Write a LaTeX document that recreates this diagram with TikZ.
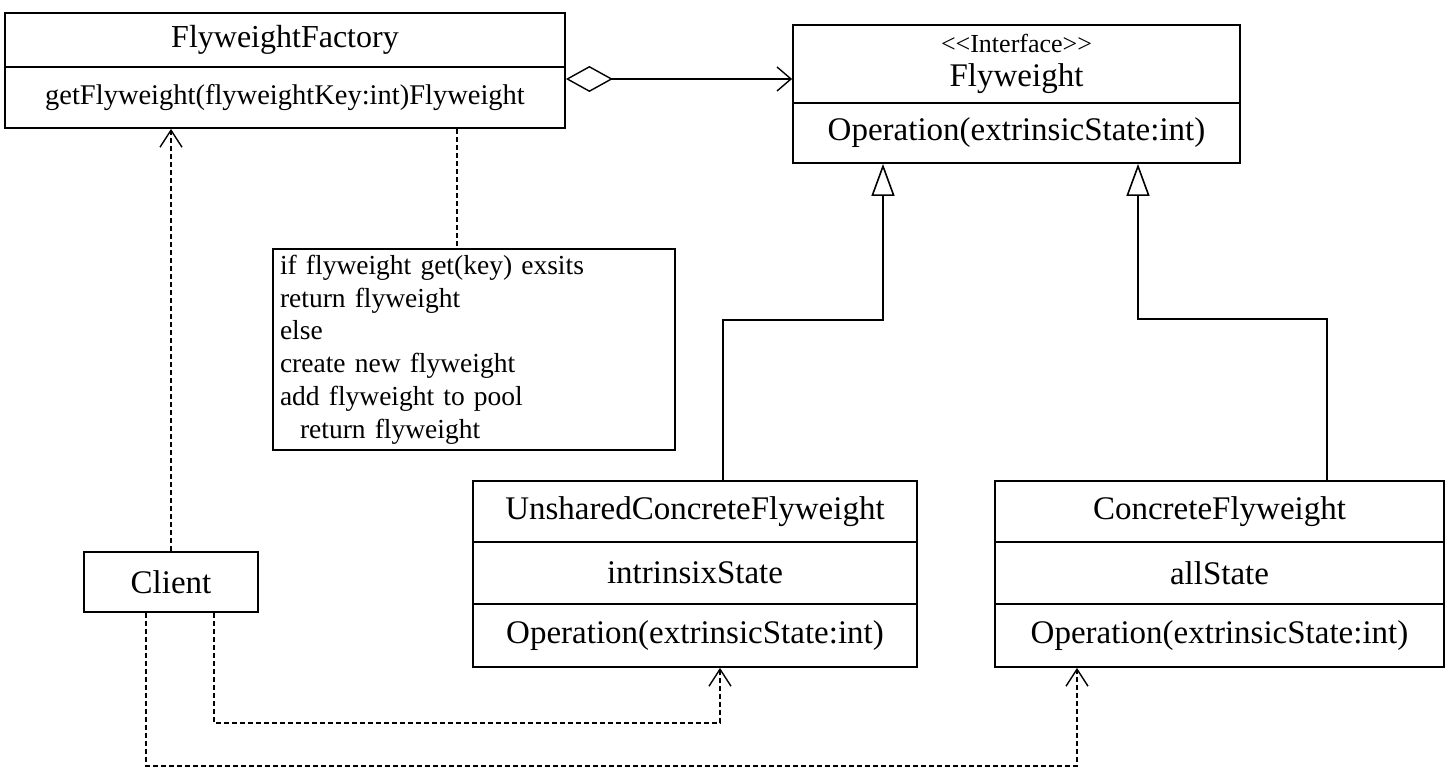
\documentclass[tikz,border=0pt]{standalone}
\usepackage{fontspec}
\setmainfont{Liberation Serif}
\usetikzlibrary{arrows.meta,calc}

\begin{document}
\begin{tikzpicture}[x=1pt,y=-1pt,font=\fontsize{33}{40}\selectfont,
  cls/.style={draw,line width=1.8pt,inner sep=0pt},
  dep/.style={line width=1.4pt,dash pattern=on 5pt off 3pt,-{Straight Barb[length=17pt,width=22pt]}},
  gen/.style={line width=1.6pt,-{Triangle[open,length=32pt,width=23pt]}}]
  \useasboundingbox (0,0) rectangle (1451,775);
  \node[cls,minimum width=560pt,minimum height=54pt,font=\fontsize{32}{38}\selectfont] (facN) at (285,40) {FlyweightFactory};
  \node[cls,minimum width=560pt,minimum height=61pt,font=\fontsize{28.5}{34}\selectfont] (facM) at (285,97.5) {getFlyweight(flyweightKey:int)Flyweight};
  \node[cls,minimum width=447pt,minimum height=78pt,align=center] (fwN) at (1016.5,64) {{\fontsize{26}{30}\selectfont <\kern0pt<Interface>\kern0pt>}\\[-6pt]Flyweight};
  \node[cls,minimum width=447pt,minimum height=60pt] (fwO) at (1016.5,133) {Operation(extrinsicState:int)};
  \node[draw,line width=1.4pt,font=\fontsize{27.5}{32.8}\selectfont,align=left,text width=388pt,inner xsep=7pt,inner ysep=0pt,minimum height=201pt] (note) at (474,349.5)
    {if flyweight get(key) exsits\\return flyweight\\else\\create new flyweight\\add flyweight to pool\\\hspace*{20pt}return flyweight};
  \node[cls,minimum width=174pt,minimum height=60pt] (cli) at (171,582) {Client};
  \node[cls,minimum width=444pt,minimum height=61pt] (ucfN) at (695,511.5) {UnsharedConcreteFlyweight};
  \node[cls,minimum width=444pt,minimum height=62pt] (ucfA) at (695,573) {intrinsixState};
  \node[cls,minimum width=444pt,minimum height=63pt] (ucfO) at (695,635.5) {Operation(extrinsicState:int)};
  \node[cls,minimum width=449pt,minimum height=61pt] (cfN) at (1219.5,511.5) {ConcreteFlyweight};
  \node[cls,minimum width=449pt,minimum height=62pt] (cfA) at (1219.5,573) {allState};
  \node[cls,minimum width=449pt,minimum height=63pt] (cfO) at (1219.5,635.5) {Operation(extrinsicState:int)};
  \coordinate (agg) at ([yshift=18.5pt]facM.east);
  \coordinate (nt) at ([xshift=-17pt]note.north);
  \draw[line width=1.4pt,{Diamond[open,length=47pt,width=26pt]}-{Straight Barb[length=14pt,width=24pt]}] (agg) -- (agg -| fwN.west);
  \draw[line width=1.4pt,dash pattern=on 5pt off 3pt] (facM.south -| nt) -- (nt);
  \draw[dep] (cli.north) -- (cli.north |- facM.south);
  \draw[dep] ([xshift=43pt]cli.south) -- ++(0,110) -| ([xshift=25pt]ucfO.south);
  \draw[dep] ([xshift=-25pt]cli.south) -- ++(0,153) -| ([xshift=-142.5pt]cfO.south);
  \draw[gen] ([xshift=28pt]ucfN.north) -- ++(0,-160) -| ([xshift=-133.5pt]fwO.south);
  \draw[gen] ([xshift=107.5pt]cfN.north) -- ++(0,-161) -| ([xshift=121.5pt]fwO.south);
\end{tikzpicture}
\end{document}
